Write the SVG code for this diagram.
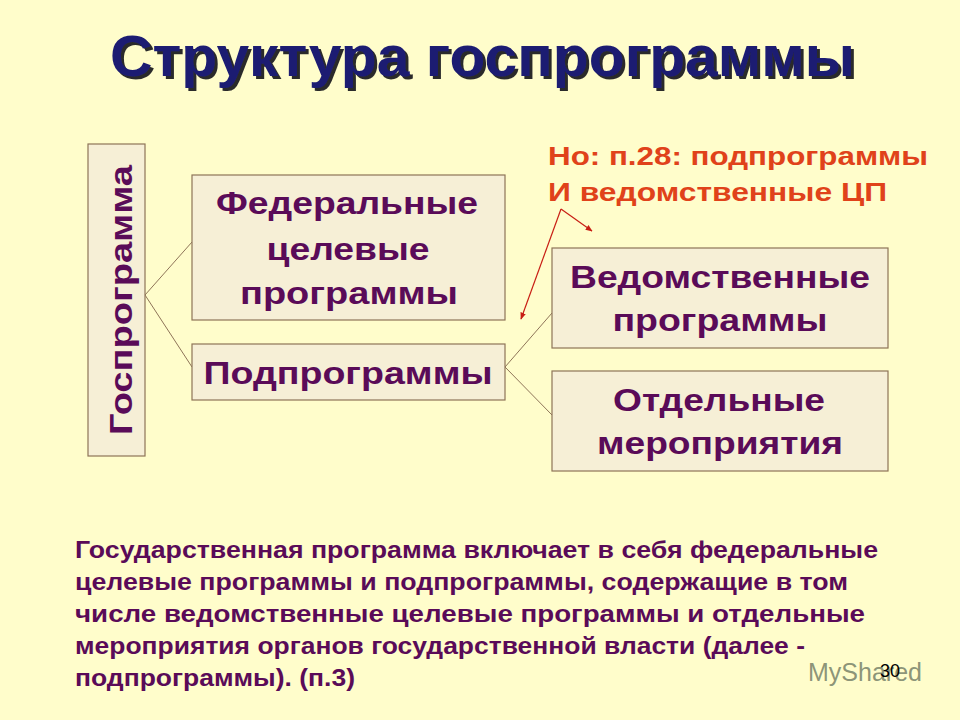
<svg xmlns="http://www.w3.org/2000/svg" width="960" height="720" viewBox="0 0 960 720">
<defs>
<style>
.box{fill:#F6EFD6;stroke:#8E7458;stroke-width:1.2}
.bt{font-family:"Liberation Sans",Arial,sans-serif;font-weight:bold;font-size:31px;fill:#5A0B58;text-anchor:middle}
.link{stroke:#8E7458;stroke-width:1;fill:none}
.red{stroke:#C81E14;stroke-width:1.2;fill:none}
.note{font-family:"Liberation Sans",Arial,sans-serif;font-weight:bold;font-size:26px;fill:#E0421A}
.para{font-family:"Liberation Sans",Arial,sans-serif;font-weight:bold;font-size:23px;fill:#5A0B58}
.title{font-family:"Liberation Sans",Arial,sans-serif;font-weight:bold;font-size:58px}
</style>
<filter id="shadow" x="-5%" y="-20%" width="110%" height="150%">
<feDropShadow dx="3" dy="3" stdDeviation="0.6" flood-color="#2A2A2A" flood-opacity="1"/>
</filter>
<marker id="ah" viewBox="0 0 10 10" refX="9" refY="5" markerWidth="7" markerHeight="7" orient="auto" markerUnits="userSpaceOnUse">
<path d="M0,1 L10,5 L0,9 z" fill="#C81E14"/>
</marker>
</defs>
<rect width="960" height="720" fill="#FFFDCB"/>

<g id="title">
<text class="title" x="110" y="76" fill="#1A1A72" filter="url(#shadow)" textLength="745" lengthAdjust="spacingAndGlyphs">Структура госпрограммы</text>
</g>

<g id="connectors">
<line class="link" x1="145" y1="295" x2="192" y2="242"/>
<line class="link" x1="145" y1="295" x2="192" y2="367"/>
<line class="link" x1="505" y1="367" x2="552" y2="313"/>
<line class="link" x1="505" y1="367" x2="552" y2="415"/>
<line class="red" x1="561" y1="209" x2="521" y2="319" marker-end="url(#ah)"/>
<line class="red" x1="561" y1="209" x2="592" y2="231" marker-end="url(#ah)"/>
</g>

<g id="gosprogramma">
<rect class="box" x="88" y="144" width="57" height="312"/>
<text class="bt" transform="translate(132,300) rotate(-90)" x="0" y="0" font-size="37" textLength="270" lengthAdjust="spacingAndGlyphs">Госпрограмма</text>
</g>

<g id="federal">
<rect class="box" x="192" y="175" width="313" height="145"/>
<text class="bt" x="347" y="214" textLength="262" lengthAdjust="spacingAndGlyphs">Федеральные</text>
<text class="bt" x="348" y="260" textLength="163" lengthAdjust="spacingAndGlyphs">целевые</text>
<text class="bt" x="349" y="304" textLength="218" lengthAdjust="spacingAndGlyphs">программы</text>
</g>

<g id="podprogrammy">
<rect class="box" x="192" y="344" width="313" height="56"/>
<text class="bt" x="348" y="384" textLength="289" lengthAdjust="spacingAndGlyphs">Подпрограммы</text>
</g>

<g id="vedomstvennye">
<rect class="box" x="552" y="248" width="336" height="100"/>
<text class="bt" x="720" y="288" textLength="300" lengthAdjust="spacingAndGlyphs">Ведомственные</text>
<text class="bt" x="720" y="331" textLength="215" lengthAdjust="spacingAndGlyphs">программы</text>
</g>

<g id="otdelnye">
<rect class="box" x="552" y="371" width="336" height="100"/>
<text class="bt" x="719" y="411" textLength="212" lengthAdjust="spacingAndGlyphs">Отдельные</text>
<text class="bt" x="720" y="454" textLength="246" lengthAdjust="spacingAndGlyphs">мероприятия</text>
</g>

<g id="note">
<text class="note" x="548" y="165" textLength="380" lengthAdjust="spacingAndGlyphs">Но: п.28: подпрограммы</text>
<text class="note" x="548" y="201" textLength="339" lengthAdjust="spacingAndGlyphs">И ведомственные ЦП</text>
</g>

<g id="paragraph">
<text class="para" x="75" y="558" textLength="803" lengthAdjust="spacingAndGlyphs">Государственная программа включает в себя федеральные</text>
<text class="para" x="75" y="590" textLength="773" lengthAdjust="spacingAndGlyphs">целевые программы и подпрограммы, содержащие в том</text>
<text class="para" x="75" y="622" textLength="790" lengthAdjust="spacingAndGlyphs">числе ведомственные целевые программы и отдельные</text>
<text class="para" x="75" y="654" textLength="730" lengthAdjust="spacingAndGlyphs">мероприятия органов государственной власти (далее -</text>
<text class="para" x="75" y="686" textLength="280" lengthAdjust="spacingAndGlyphs">подпрограммы). (п.3)</text>
</g>

<g id="footer">
<text x="808" y="681" font-family="Liberation Sans,Arial,sans-serif" font-size="25" fill="#6E7862" fill-opacity="0.8">MyShared</text>
<text x="880" y="677" font-family="Liberation Sans,Arial,sans-serif" font-size="18" fill="#000000">30</text>
</g>
</svg>
